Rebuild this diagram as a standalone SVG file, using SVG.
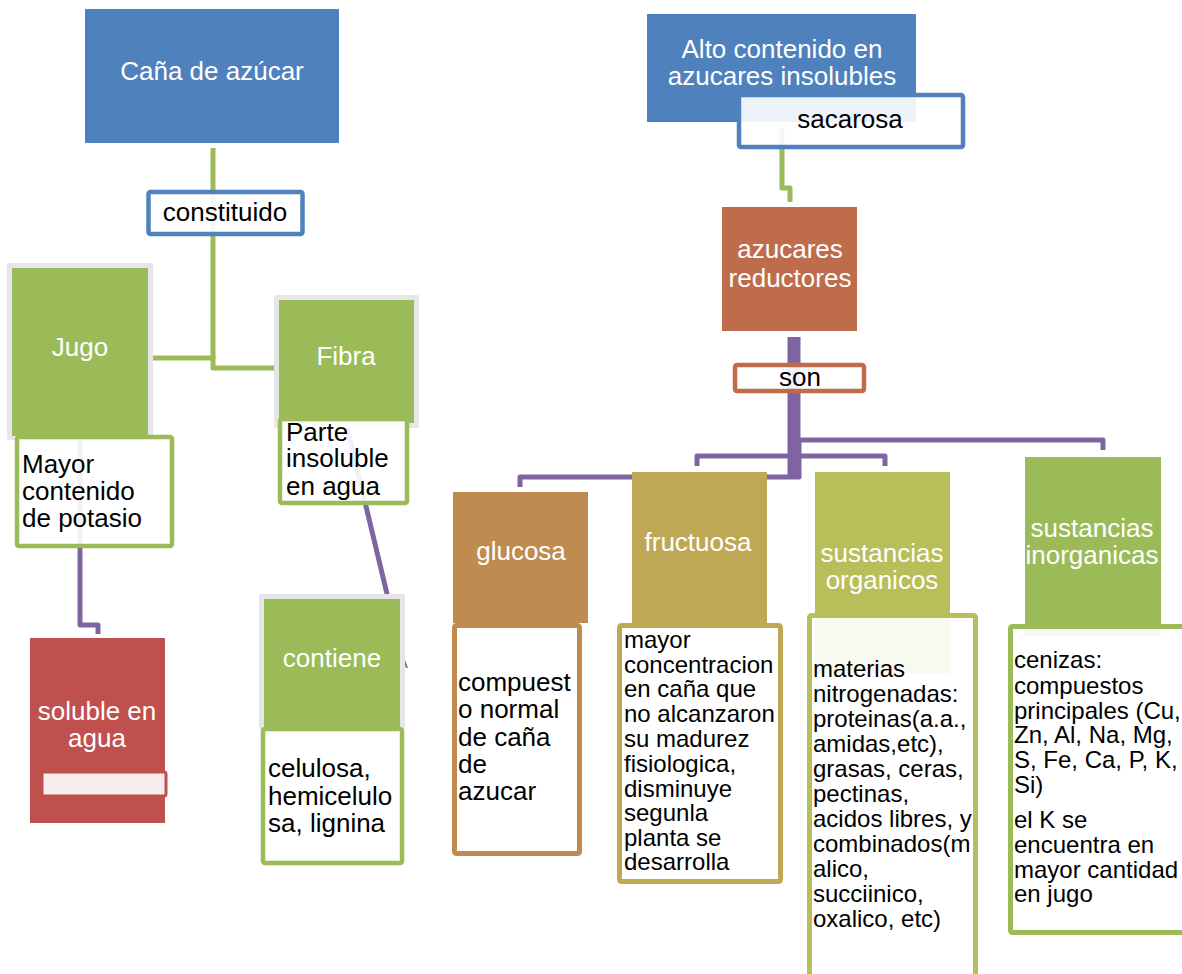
<svg xmlns="http://www.w3.org/2000/svg" width="1182" height="974" viewBox="0 0 1182 974">
<style>
text{font-family:"Liberation Sans",Arial,sans-serif;}
.lbl{font-size:26px;fill:#fff;text-anchor:middle;}
.dk{font-size:26px;fill:#000;}
.dks{font-size:24px;fill:#000;}
.box{fill:#fff;fill-opacity:0.9;stroke-width:4.5;}
.g{fill:none;stroke:#9BBB59;stroke-width:5;stroke-linejoin:round;}
.p{fill:none;stroke:#8064A2;stroke-width:5;stroke-linejoin:round;}
.gray{fill:#E6E6E6;}
.green{fill:#9BBB59;}
</style>
<rect width="1182" height="974" fill="#fff"/>
<g id="connectors">
<path class="g" d="M213,148 V358 H153"/>
<path class="g" d="M213,356 V368 H276"/>
<path class="g" d="M782,128 V188 H790 V202"/>
<path class="p" d="M80,440 V625 H98 V634"/>
<path class="p" d="M346,423 L388,598"/>
<path class="p" d="M404,660 L407,668" style="stroke-width:2"/>
<path class="p" d="M794,337 V478" style="stroke-width:13"/>
<path class="p" d="M797,440 H1103 V450"/>
<path class="p" d="M697,466 V456 H885 V466"/>
<path class="p" d="M799,440 V477 H520 V487"/>
</g>
<g id="cana">
<rect x="85" y="9" width="254" height="134" fill="#4F81BD"/>
<text class="lbl" x="212" y="80">Caña de azúcar</text>
</g>
<g id="constituido">
<rect class="box" x="148.5" y="192" width="154" height="42" rx="2" stroke="#4F81BD"/>
<text class="dk" x="225" y="221" text-anchor="middle">constituido</text>
</g>
<g id="jugo">
<rect class="gray" x="7" y="263" width="146" height="177" rx="2"/>
<rect class="green" x="12" y="268" width="136" height="168"/>
<text class="lbl" x="80" y="356">Jugo</text>
</g>
<g id="mayor">
<rect class="box" x="17" y="437" width="155" height="109" rx="2" stroke="#9BBB59"/>
<text class="dk"><tspan x="22" y="473">Mayor</tspan><tspan x="22" y="500">contenido</tspan><tspan x="22" y="527">de potasio</tspan></text>
</g>
<g id="fibra">
<rect class="gray" x="274" y="295" width="145" height="133" rx="2"/>
<rect class="green" x="279" y="300" width="135" height="123"/>
<text class="lbl" x="346" y="365">Fibra</text>
</g>
<g id="parte">
<rect class="box" x="280" y="419" width="127" height="84" rx="2" stroke="#9BBB59"/>
<text class="dk"><tspan x="286" y="441">Parte</tspan><tspan x="286" y="467">insoluble</tspan><tspan x="286" y="495">en agua</tspan></text>
</g>
<g id="soluble">
<rect x="30" y="638" width="135" height="185" fill="#C0504D"/>
<text class="lbl"><tspan x="97" y="720">soluble en</tspan><tspan x="97" y="747">agua</tspan></text>
<rect x="42" y="772" width="124" height="24" rx="2" fill="#F7ECEC" stroke="#C0504D" stroke-width="3"/>
</g>
<g id="contiene">
<rect class="gray" x="259" y="594" width="146" height="136" rx="2"/>
<rect class="green" x="264" y="599" width="136" height="129"/>
<text class="lbl" x="332" y="667">contiene</text>
</g>
<g id="celulosa">
<rect class="box" x="263" y="729" width="139" height="134" rx="2" stroke="#9BBB59"/>
<text class="dk"><tspan x="268" y="777">celulosa,</tspan><tspan x="268" y="805">hemicelulo</tspan><tspan x="268" y="832">sa, lignina</tspan></text>
</g>
<g id="alto">
<rect x="647" y="14" width="269" height="108" fill="#4F81BD"/>
<text class="lbl"><tspan x="782" y="58">Alto contenido en</tspan><tspan x="782" y="85">azucares insolubles</tspan></text>
</g>
<g id="sacarosa">
<rect class="box" x="739" y="95" width="224" height="52" rx="2" stroke="#4F81BD"/>
<text class="dk" x="850" y="128" text-anchor="middle">sacarosa</text>
</g>
<g id="reductores">
<rect x="722" y="207" width="135" height="124" fill="#BF6C4C"/>
<text class="lbl"><tspan x="790" y="258">azucares</tspan><tspan x="790" y="287">reductores</tspan></text>
</g>
<g id="son">
<rect class="box" x="735" y="365" width="129" height="26" rx="2" stroke="#BF6C4C"/>
<text class="dk" x="800" y="386" text-anchor="middle">son</text>
</g>
<g id="glucosa">
<rect x="453" y="492" width="135" height="131" fill="#C08B50"/>
<text class="lbl" x="521" y="560">glucosa</text>
</g>
<g id="glucosa-desc">
<rect class="box" x="454.5" y="625.5" width="125" height="228" rx="2" stroke="#C08B50" style="stroke-width:5"/>
<text class="dk"><tspan x="458" y="691">compuest</tspan><tspan x="458" y="718">o normal</tspan><tspan x="458" y="746">de caña</tspan><tspan x="458" y="773">de</tspan><tspan x="458" y="800">azucar</tspan></text>
</g>
<g id="fructuosa">
<rect x="632" y="472" width="135" height="151" fill="#BEA853"/>
<text class="lbl" x="698" y="551">fructuosa</text>
</g>
<g id="fructuosa-desc">
<rect class="box" x="619.5" y="625.5" width="161" height="256" rx="2" stroke="#BEA853" style="stroke-width:5"/>
<text class="dks"><tspan x="624" y="648">mayor</tspan><tspan x="624" y="673">concentracion</tspan><tspan x="624" y="697">en caña que</tspan><tspan x="624" y="722">no alcanzaron</tspan><tspan x="624" y="747">su madurez</tspan><tspan x="624" y="772">fisiologica,</tspan><tspan x="624" y="797">disminuye</tspan><tspan x="624" y="821">segunla</tspan><tspan x="624" y="846">planta se</tspan><tspan x="624" y="870">desarrolla</tspan></text>
</g>
<g id="organicos">
<rect x="815" y="472" width="135" height="201" fill="#B7BE5A"/>
<text class="lbl"><tspan x="882" y="562">sustancias</tspan><tspan x="882" y="589">organicos</tspan></text>
</g>
<g id="organicos-desc">
<rect class="box" x="809.5" y="615.5" width="166" height="380" rx="2" stroke="#B7BE5A" style="stroke-width:5"/>
<text class="dks"><tspan x="813" y="677">materias</tspan><tspan x="813" y="702">nitrogenadas:</tspan><tspan x="813" y="727">proteinas(a.a.,</tspan><tspan x="813" y="752">amidas,etc),</tspan><tspan x="813" y="777">grasas, ceras,</tspan><tspan x="813" y="802">pectinas,</tspan><tspan x="813" y="827">acidos libres, y</tspan><tspan x="813" y="852">combinados(m</tspan><tspan x="813" y="877">alico,</tspan><tspan x="813" y="902">succiinico,</tspan><tspan x="813" y="927">oxalico, etc)</tspan></text>
</g>
<g id="inorganicas">
<rect x="1025" y="457" width="136" height="179" fill="#9BBB59"/>
<text class="lbl"><tspan x="1092" y="537">sustancias</tspan><tspan x="1092" y="564">inorganicas</tspan></text>
</g>
<g id="inorganicas-desc">
<rect class="box" x="1010.5" y="626.5" width="190" height="306" rx="2" stroke="#9BBB59" style="stroke-width:5"/>
<text class="dks"><tspan x="1014" y="668">cenizas:</tspan><tspan x="1014" y="694">compuestos</tspan><tspan x="1014" y="719">principales (Cu,</tspan><tspan x="1014" y="743">Zn, Al, Na, Mg,</tspan><tspan x="1014" y="768">S, Fe, Ca, P, K,</tspan><tspan x="1014" y="793">Si)</tspan><tspan x="1014" y="828">el K se</tspan><tspan x="1014" y="853">encuentra en</tspan><tspan x="1014" y="878">mayor cantidad</tspan><tspan x="1014" y="902">en jugo</tspan></text>
</g>
</svg>
